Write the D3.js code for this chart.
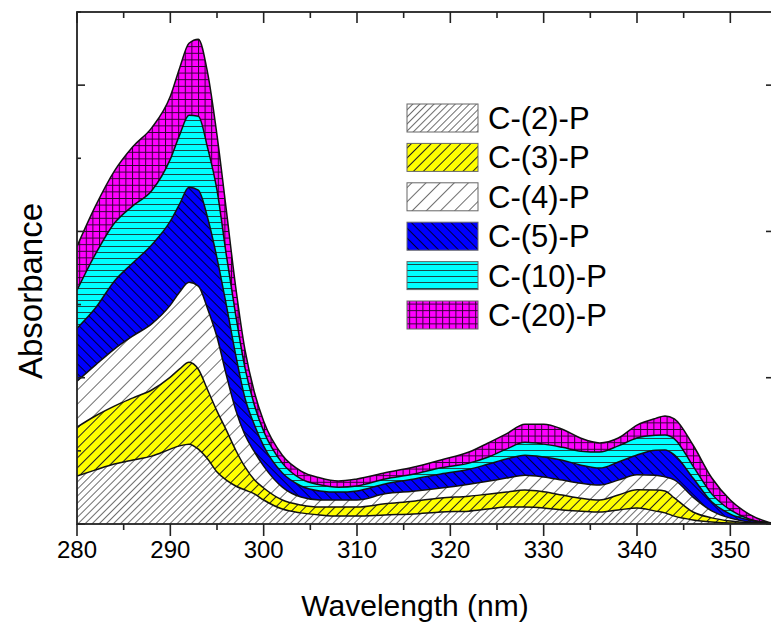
<!DOCTYPE html>
<html>
<head>
<meta charset="utf-8">
<script src="https://cdn.jsdelivr.net/npm/d3@7"></script>
<style>
  body { margin: 0; background: #fff; }
  svg { display: block; }
  text { font-family: "Liberation Sans", Arial, sans-serif; fill: #000; }
</style>
</head>
<body>
<svg id="chart" width="771" height="630"></svg>
<script>
// Wavelength grid (nm)
const wavelengths = [280,282,284,286,288,290,291,292,293,294,295,296,297,298,299,300,302,304,306,308,310,313,316,319,322,324,326,328,330,332,334,336,338,340,342,343,344,346,348,350,352,354,355];

// Absorbance contribution of each sample (stacked)
const c2  = [.164,.185,.205,.219,.232,.256,.267,.273,.256,.222,.178,.150,.130,.116,.103,.082,.051,.038,.031,.027,.027,.031,.034,.041,.044,.051,.058,.058,.055,.048,.044,.041,.048,.055,.044,.038,.027,.014,.007,.003,.002,0,0];
const c3  = [.167,.185,.198,.212,.226,.246,.263,.280,.273,.236,.208,.171,.123,.079,.048,.041,.031,.027,.027,.031,.031,.038,.044,.048,.051,.051,.051,.058,.055,.051,.044,.041,.051,.062,.072,.075,.062,.027,.014,.007,.002,.002,0];
const c4  = [.157,.174,.195,.212,.226,.246,.263,.273,.284,.277,.253,.188,.137,.109,.096,.075,.044,.027,.024,.024,.024,.034,.034,.034,.041,.044,.048,.051,.051,.051,.051,.051,.051,.051,.051,.048,.062,.051,.024,.010,.003,0,0];
const c5  = [.181,.195,.232,.250,.270,.287,.301,.325,.328,.311,.270,.239,.188,.126,.092,.068,.048,.038,.031,.027,.031,.034,.041,.048,.051,.058,.065,.068,.068,.068,.062,.058,.062,.068,.085,.092,.085,.065,.031,.014,.007,.002,0];
const c10 = [.130,.185,.198,.195,.185,.212,.236,.246,.253,.239,.232,.171,.137,.103,.068,.051,.034,.024,.021,.017,.017,.017,.017,.021,.021,.024,.034,.044,.044,.044,.048,.055,.055,.058,.051,.051,.055,.041,.027,.014,.003,0,0];
const c20 = [.150,.164,.178,.202,.215,.215,.229,.246,.263,.256,.188,.154,.096,.062,.044,.034,.027,.027,.024,.021,.024,.021,.024,.027,.038,.048,.052,.062,.068,.062,.044,.031,.027,.044,.058,.065,.068,.072,.055,.034,.017,.003,0];

const seriesNames = ["C-(2)-P", "C-(3)-P", "C-(4)-P", "C-(5)-P", "C-(10)-P", "C-(20)-P"];
const seriesValues = [c2, c3, c4, c5, c10, c20];

const xMajorTicks = [280, 290, 300, 310, 320, 330, 340, 350];
const xMinorTicks = [285, 295, 305, 315, 325, 335, 345, 355];
const yMajorTicks = [0, 0.5, 1.0, 1.5];
const yMinorTicks = [0.25, 0.75, 1.25, 1.75];

const xLabel = "Wavelength (nm)";
const yLabel = "Absorbance";

(function () {
  // Fill styles per series
  const fills = [
    { id: "p2",  type: "hatch", bg: "#ffffff", line: "#6e6e6e", gap: 5,  angle: 45,  w: 1 },
    { id: "p3",  type: "hatch", bg: "#ffff00", line: "#222222", gap: 7,  angle: 45,  w: 1 },
    { id: "p4",  type: "hatch", bg: "#ffffff", line: "#6e6e6e", gap: 10, angle: 45,  w: 1 },
    { id: "p5",  type: "hatch", bg: "#0000ff", line: "#000033", gap: 7,  angle: -45, w: 1 },
    { id: "p10", type: "horiz", bg: "#00ffff", line: "#1a4a4a", gap: 6 },
    { id: "p20", type: "grid",  bg: "#ff00ff", line: "#330033", gap: 6.6 }
  ];

  const svg = d3.select("#chart");
  const pL = 77, pR = 777, pT = 12, pB = 524;

  const x = d3.scaleLinear().domain([280, 355]).range([pL, pR]);
  const y = d3.scaleLinear().domain([0, 1.75]).range([pB, pT]);

  // Pattern definitions
  const defs = svg.append("defs");
  fills.forEach(f => {
    const p = defs.append("pattern")
      .attr("id", f.id)
      .attr("patternUnits", "userSpaceOnUse");
    if (f.type === "hatch") {
      p.attr("width", f.gap).attr("height", f.gap)
       .attr("patternTransform", `rotate(${f.angle})`);
      p.append("rect").attr("width", f.gap).attr("height", f.gap).attr("fill", f.bg);
      p.append("line").attr("x1", 0.5).attr("y1", 0).attr("x2", 0.5).attr("y2", f.gap)
       .attr("stroke", f.line).attr("stroke-width", f.w);
    } else if (f.type === "horiz") {
      p.attr("width", 20).attr("height", f.gap);
      p.append("rect").attr("width", 20).attr("height", f.gap).attr("fill", f.bg);
      p.append("line").attr("x1", 0).attr("y1", 0.5).attr("x2", 20).attr("y2", 0.5)
       .attr("stroke", f.line).attr("stroke-width", 1);
    } else {
      p.attr("width", f.gap).attr("height", f.gap);
      p.append("rect").attr("width", f.gap).attr("height", f.gap).attr("fill", f.bg);
      p.append("path").attr("d", `M0,0.5H${f.gap}M0.5,0V${f.gap}`)
       .attr("stroke", f.line).attr("stroke-width", 1).attr("fill", "none");
    }
  });

  defs.append("clipPath").attr("id", "plotClip")
    .append("rect").attr("x", pL).attr("y", pT)
    .attr("width", pR - pL).attr("height", pB - pT);

  // Stacked data
  const rows = wavelengths.map((w, i) => {
    const r = { w };
    seriesNames.forEach((n, k) => r[n] = seriesValues[k][i]);
    return r;
  });
  const stacked = d3.stack().keys(seriesNames)(rows);

  const area = d3.area()
    .x(d => x(d.data.w))
    .y0(d => y(d[0]))
    .y1(d => y(d[1]))
    .curve(d3.curveMonotoneX);
  const topLine = d3.line()
    .x(d => x(d.data.w))
    .y(d => y(d[1]))
    .curve(d3.curveMonotoneX);

  const plot = svg.append("g").attr("clip-path", "url(#plotClip)");
  plot.selectAll("path.layer").data(stacked).join("path")
    .attr("class", "layer")
    .attr("d", area)
    .attr("fill", (d, i) => `url(#${fills[i].id})`);
  plot.selectAll("path.edge").data(stacked).join("path")
    .attr("class", "edge")
    .attr("d", topLine)
    .attr("fill", "none")
    .attr("stroke", "#111")
    .attr("stroke-width", 1.5)
    .attr("stroke-linejoin", "round");

  // Frame and ticks
  const axisColor = "#222";
  svg.append("rect").attr("x", pL).attr("y", pT)
    .attr("width", pR - pL).attr("height", pB - pT)
    .attr("fill", "none").attr("stroke", axisColor).attr("stroke-width", 1.8);

  const ticks = svg.append("g").attr("stroke", axisColor).attr("stroke-width", 1.6);
  xMajorTicks.forEach(t => {
    ticks.append("line").attr("x1", x(t)).attr("x2", x(t)).attr("y1", pB).attr("y2", pB + 12);
    ticks.append("line").attr("x1", x(t)).attr("x2", x(t)).attr("y1", pT).attr("y2", pT + 11);
  });
  xMinorTicks.forEach(t => {
    ticks.append("line").attr("x1", x(t)).attr("x2", x(t)).attr("y1", pB).attr("y2", pB + 6);
    ticks.append("line").attr("x1", x(t)).attr("x2", x(t)).attr("y1", pT).attr("y2", pT + 6);
  });
  yMajorTicks.forEach(t => {
    ticks.append("line").attr("x1", pL).attr("x2", pL + 8).attr("y1", y(t)).attr("y2", y(t));
    ticks.append("line").attr("x1", pR).attr("x2", pR - 11).attr("y1", y(t)).attr("y2", y(t));
  });
  yMinorTicks.forEach(t => {
    ticks.append("line").attr("x1", pL).attr("x2", pL + 4).attr("y1", y(t)).attr("y2", y(t));
    ticks.append("line").attr("x1", pR).attr("x2", pR - 6).attr("y1", y(t)).attr("y2", y(t));
  });

  // Tick labels
  svg.append("g").selectAll("text").data(xMajorTicks).join("text")
    .attr("x", d => x(d)).attr("y", 558)
    .attr("text-anchor", "middle").attr("font-size", 24)
    .text(d => d);

  // Axis titles
  svg.append("text").attr("x", 415).attr("y", 616)
    .attr("text-anchor", "middle").attr("font-size", 30)
    .text(xLabel);
  svg.append("text")
    .attr("transform", "translate(42,291) rotate(-90)")
    .attr("text-anchor", "middle").attr("font-size", 33)
    .text(yLabel);

  // Legend
  const legend = svg.append("g");
  const legendTop = 104, legendStep = 39.4;
  seriesNames.forEach((n, i) => {
    const gy = legendTop + i * legendStep;
    legend.append("rect")
      .attr("x", 407).attr("y", gy).attr("width", 71).attr("height", 28)
      .attr("fill", `url(#${fills[i].id})`)
      .attr("stroke", "#666").attr("stroke-width", 1);
    legend.append("text")
      .attr("x", 488).attr("y", gy + 25)
      .attr("font-size", 31)
      .text(n);
  });
})();
</script>
</body>
</html>
